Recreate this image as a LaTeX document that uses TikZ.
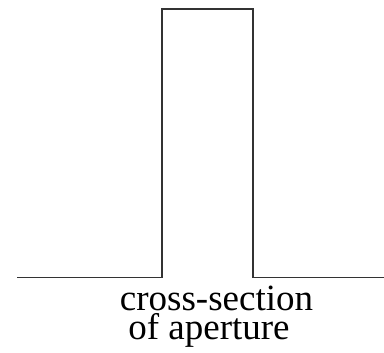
\documentclass[tikz,border=0pt]{standalone}
\usepackage{fontspec}
\setmainfont{Liberation Serif}
\begin{document}
\begin{tikzpicture}[x=1pt,y=1pt,
  pulse/.style={line width=1.3pt,draw=black!80,line join=miter},
  lbl/.style={anchor=base,inner sep=0pt,font=\fontsize{37}{37}\selectfont}]
\useasboundingbox (0,0) rectangle (384,353);
\coordinate (L) at (17,75.5);
\coordinate (R) at (384,75.5);
\coordinate (a) at (162,75.5);
\coordinate (b) at (162,344);
\coordinate (c) at (253,344);
\coordinate (d) at (253,75.5);
\draw[pulse] (L) -- (a) -- (b) -- (c) -- (d) -- (R);
\node[lbl] (t1) at (216.5,42) {cross-section};
\node[lbl] (t2) at (209,13) {of aperture};
\end{tikzpicture}
\end{document}
